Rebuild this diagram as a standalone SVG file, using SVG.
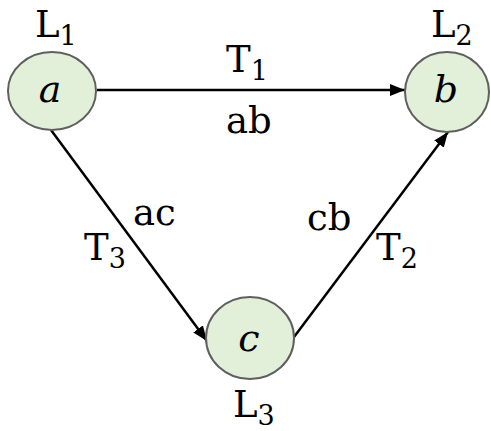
<svg xmlns="http://www.w3.org/2000/svg" width="491" height="431" viewBox="0 0 491 431">
<style>
.node{fill:#e2efd9;stroke:#5f5f5f;stroke-width:2}
.lbl{font-family:"DejaVu Serif","Liberation Serif",serif;font-size:37px;fill:#000}
.var{font-family:"DejaVu Serif","Liberation Serif",serif;font-size:38px;font-style:italic;fill:#000}
.sub{font-size:27px}
.edge{stroke:#000;stroke-width:2.5;fill:none;marker-end:url(#arr)}
</style>
<defs>
<marker id="arr" viewBox="0 0 15 12" refX="15" refY="6" markerWidth="15" markerHeight="12" markerUnits="userSpaceOnUse" orient="auto">
<path d="M0,0 L15,6 L0,12 z" fill="#000"/>
</marker>
</defs>
<rect width="491" height="431" fill="#fff"/>
<g id="connectors">
<line class="edge" x1="97" y1="90" x2="405" y2="90"/>
<line class="edge" x1="51" y1="130" x2="207" y2="341"/>
<line class="edge" x1="294" y1="337" x2="448" y2="132"/>
</g>
<g id="labels">
<text class="lbl" x="226" y="72">T<tspan class="sub" dy="8">1</tspan></text>
<text class="lbl" x="226" y="133">ab</text>
<text class="lbl" x="84" y="260">T<tspan class="sub" dy="8">3</tspan></text>
<text class="lbl" x="133" y="225">ac</text>
<text class="lbl" x="307" y="230">cb</text>
<text class="lbl" x="376" y="260">T<tspan class="sub" dy="8">2</tspan></text>
</g>
<g id="node-a">
<ellipse class="node" cx="52" cy="91" rx="44" ry="39"/>
<text class="var" x="50" y="102" text-anchor="middle">a</text>
<text class="lbl" x="35" y="37">L<tspan class="sub" dy="8">1</tspan></text>
</g>
<g id="node-b">
<ellipse class="node" cx="447" cy="92" rx="42" ry="40"/>
<text class="var" x="446" y="102" text-anchor="middle">b</text>
<text class="lbl" x="431" y="37">L<tspan class="sub" dy="8">2</tspan></text>
</g>
<g id="node-c">
<ellipse class="node" cx="250" cy="338" rx="44" ry="41"/>
<text class="var" x="249" y="351" text-anchor="middle">c</text>
<text class="lbl" x="233" y="417">L<tspan class="sub" dy="8">3</tspan></text>
</g>
</svg>
